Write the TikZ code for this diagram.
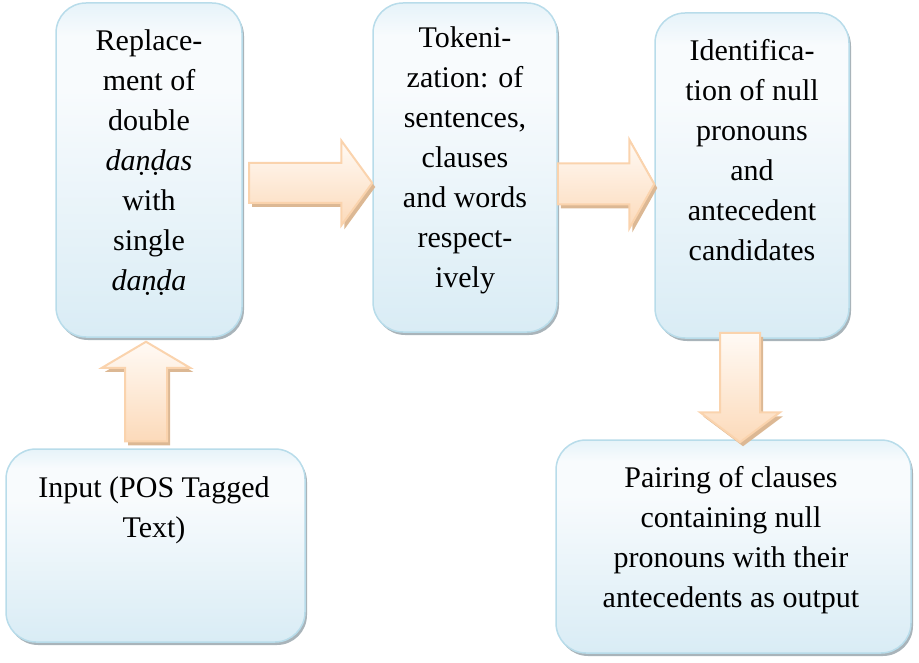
\documentclass[tikz,border=0pt]{standalone}
\usepackage{fontspec}
\setmainfont{Liberation Serif}
\usetikzlibrary{calc,shadows}

\definecolor{boxline}{HTML}{B8DCEA}
\definecolor{boxtop}{HTML}{E6F3F9}
\definecolor{boxmid}{HTML}{F8FBFD}
\definecolor{boxbot}{HTML}{D9ECF5}
\definecolor{boxshadow}{HTML}{A9B4BA}
\definecolor{arrline}{HTML}{FAD3AD}
\definecolor{arrtop}{HTML}{FFFAF5}
\definecolor{arrbot}{HTML}{FCDABA}
\definecolor{arrshadow}{HTML}{DCB894}

% pale blue fill of the process boxes: light band at the top, whitish, then blue towards the bottom
\pgfdeclareverticalshading{stepshade}{100bp}{color(0bp)=(boxbot); color(25bp)=(boxbot); color(62bp)=(boxmid); color(70bp)=(boxmid); color(75bp)=(boxtop); color(100bp)=(boxtop)}

\tikzset{
  stepbox/.style={draw=boxline, line width=1.5pt, rounded corners=30pt, shade, shading=stepshade,
    inner sep=0pt, drop shadow={fill=boxshadow, opacity=1, shadow xshift=2pt, shadow yshift=-3pt}},
  steptext/.style={font=\fontsize{30}{40}\selectfont, align=center, anchor=north, inner sep=0pt},
  flowarrow/.style={draw=arrline, line width=2pt, line join=miter, top color=arrtop, bottom color=arrbot,
    drop shadow={fill=arrshadow, opacity=1, shadow xshift=3pt, shadow yshift=-4pt}}
}

% block arrow: #1 tail, #2 tip, #3 half shaft width, #4 half head width, #5 head length
\newcommand{\blockarr}[5]{%
  \coordinate (ba-base) at ($(#2)!#5!(#1)$);
  \draw[flowarrow] ($(#1)!#3!90:(#2)$) -- ($(ba-base)!#3!90:(#2)$) -- ($(ba-base)!#4!90:(#2)$)
    -- (#2) -- ($(ba-base)!#4!-90:(#2)$) -- ($(ba-base)!#3!-90:(#2)$) -- ($(#1)!#3!-90:(#2)$) -- cycle;
}

\begin{document}
\begin{tikzpicture}[x=1pt, y=-1pt]
  \useasboundingbox (0,0) rectangle (919,663);

  % process boxes
  \node[stepbox, minimum width=186pt, minimum height=334pt] (b1) at (149,170) {};
  \node[stepbox, minimum width=184pt, minimum height=329pt] (b2) at (465,167.5) {};
  \node[stepbox, minimum width=194pt, minimum height=325pt] (b3) at (752,175.5) {};
  \node[stepbox, minimum width=299pt, minimum height=193pt] (b4) at (155.5,545.5) {};
  \node[stepbox, minimum width=355pt, minimum height=213pt] (b5) at (733.5,546.5) {};

  % box texts
  \node[steptext] (t1) at (149,29.5) {Replace-\\ment of\\double\\\textit{daṇḍas}\\with\\single\\\textit{daṇḍa}};
  \node[steptext] (t2) at (465,26.5) {Tokeni-\\zation: of\\sentences,\\clauses\\and words\\respect-\\ively};
  \node[steptext] (t3) at (752,39.5) {Identifica-\\tion of null\\pronouns\\and\\antecedent\\candidates};
  \node[steptext] (t4) at (154,476.5) {Input (POS Tagged\\Text)};
  \node[steptext] (t5) at (731,466.5) {Pairing of clauses\\containing null\\pronouns with their\\antecedents as output};

  % arrow end points
  \coordinate (a1s) at (249,183);
  \coordinate (a1e) at (b2.west |- a1s);
  \coordinate (a2s) at (b2.east |- 0,184);
  \coordinate (a2e) at (b3.west |- a2s);
  \coordinate (a3s) at ([yshift=7pt]b4.north -| 146,0);
  \coordinate (a3e) at ([yshift=-4pt]b1.south -| a3s);
  \coordinate (a4s) at ([yshift=6pt]b3.south -| 740,0);
  \coordinate (a4e) at ([yshift=-3pt]b5.north -| a4s);

  % flow arrows
  \blockarr{a1s}{a1e}{20pt}{42.5pt}{31pt}
  \blockarr{a2s}{a2e}{20.5pt}{44.5pt}{25pt}
  \blockarr{a3s}{a3e}{21pt}{44pt}{26pt}
  \blockarr{a4s}{a4e}{20pt}{40pt}{30pt}
\end{tikzpicture}
\end{document}
